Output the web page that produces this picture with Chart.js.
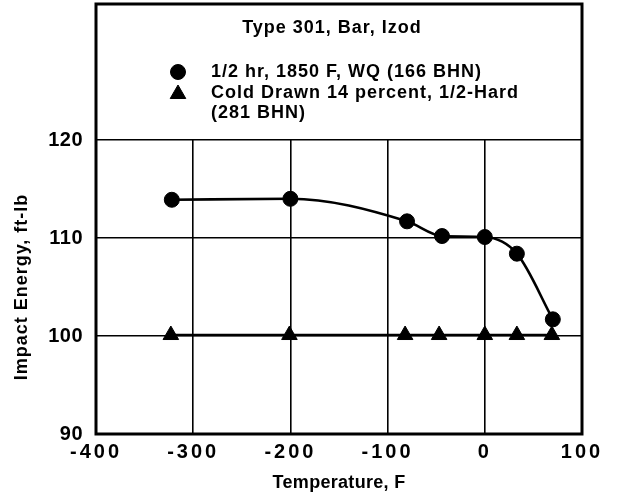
<!DOCTYPE html>
<html>
<head>
<meta charset="utf-8">
<script src="https://cdn.jsdelivr.net/npm/chart.js@4"></script>
<style>
html,body{margin:0;padding:0;background:#fff;}
#wrap{width:619px;height:498px;position:relative;}
</style>
</head>
<body>
<div id="wrap"><canvas id="c" width="619" height="498"></canvas></div>
<script>
// ---- data ----
const chartTitle = 'Type 301, Bar, Izod';
const legendLinesAnnealed = ['1/2 hr, 1850 F, WQ (166 BHN)'];
const legendLinesColdDrawn = ['Cold Drawn 14 percent, 1/2-Hard', '(281 BHN)'];
const annealedTemps  = [-322, -200, -80, -44, 0, 33, 70];
const annealedEnergy = [113.9, 114.0, 111.7, 110.2, 110.1, 108.4, 101.7];
const coldDrawnTemps  = [-323, -201, -82, -47, 0, 33, 69];
const coldDrawnEnergy = [100.1, 100.1, 100.1, 100.1, 100.1, 100.1, 100.1];
const xTicks = [-400, -300, -200, -100, 0, 100];
const yTicks = [90, 100, 110, 120];
const xAxisTitle = 'Temperature, F';
const yAxisTitle = 'Impact Energy, ft-lb';

const FONT = "'Liberation Sans', Arial, Helvetica, sans-serif";
const INK = '#000';

function pts(xs, ys) { return xs.map((x, i) => ({ x: x, y: ys[i] })); }

// letter spacing for scale labels/titles (reference typeface is wider)
const spacingPlugin = {
  id: 'spacing',
  beforeDraw(chart) {
    Object.keys(chart.scales).forEach(id => {
      const sc = chart.scales[id];
      if (sc._lsPatched) return;
      sc._lsPatched = true;
      const labelLS = id === 'x' ? '3px' : '0.5px';
      const titleLS = id === 'x' ? '0.3px' : '1px';
      const dl = sc.drawLabels, dt = sc.drawTitle;
      sc.drawLabels = function (a) { const c = this.ctx; c.save(); c.letterSpacing = labelLS; dl.call(this, a); c.restore(); };
      sc.drawTitle = function (a) { const c = this.ctx; c.save(); c.letterSpacing = titleLS; dt.call(this, a); c.restore(); };
    });
  }
};

// frame around plot + header box
const framePlugin = {
  id: 'frame',
  beforeDatasetsDraw(chart) {
    const { ctx, chartArea: a } = chart;
    ctx.save();
    ctx.strokeStyle = INK;
    ctx.lineWidth = 3;
    ctx.strokeRect(a.left, a.top - 136, a.right - a.left, a.bottom - a.top + 136);
    ctx.restore();
  }
};

// header text: title + key
const headerPlugin = {
  id: 'header',
  afterDraw(chart) {
    const { ctx, chartArea: a } = chart;
    const H = Chart.helpers;
    ctx.save();
    ctx.fillStyle = INK;
    ctx.textBaseline = 'middle';
    ctx.letterSpacing = '1px';
    ctx.font = 'bold 18px ' + FONT;
    ctx.textAlign = 'center';
    ctx.fillText(chartTitle, a.left + 236, a.top - 112);
    ctx.textAlign = 'left';
    const tx = a.left + 115, mx = a.left + 82;
    legendLinesAnnealed.forEach((t, i) => ctx.fillText(t, tx, a.top - 68 + i * 20.5));
    legendLinesColdDrawn.forEach((t, i) => ctx.fillText(t, tx, a.top - 47 + i * 20.5));
    ctx.fillStyle = INK; ctx.strokeStyle = INK; ctx.lineWidth = 1;
    H.drawPoint(ctx, { pointStyle: 'circle', radius: 7.5, borderWidth: 1 }, mx, a.top - 68);
    H.drawPoint(ctx, { pointStyle: 'triangle', radius: 9, borderWidth: 1 }, mx, a.top - 46);
    ctx.restore();
  }
};

const tickFont = { family: FONT, size: 20, weight: 'bold' };
const titleFont = { family: FONT, size: 18, weight: 'bold' };

new Chart(document.getElementById('c'), {
  type: 'scatter',
  data: {
    datasets: [
      {
        label: legendLinesAnnealed.join(' '),
        data: pts(annealedTemps, annealedEnergy),
        showLine: true,
        cubicInterpolationMode: 'monotone',
        borderColor: INK,
        backgroundColor: INK,
        borderWidth: 2.6,
        pointStyle: 'circle',
        pointRadius: 7.5,
        pointBorderWidth: 1,
        pointBackgroundColor: INK,
        pointBorderColor: INK
      },
      {
        label: legendLinesColdDrawn.join(' '),
        data: pts(coldDrawnTemps, coldDrawnEnergy),
        showLine: true,
        tension: 0,
        borderColor: INK,
        backgroundColor: INK,
        borderWidth: 2.6,
        pointStyle: 'triangle',
        pointRadius: 9,
        pointBorderWidth: 1,
        pointBackgroundColor: INK,
        pointBorderColor: INK
      }
    ]
  },
  options: {
    responsive: false,
    animation: false,
    events: [],
    layout: { padding: { top: 140, right: 37, left: 0, bottom: 0 } },
    plugins: { legend: { display: false }, title: { display: false }, tooltip: { enabled: false } },
    scales: {
      x: {
        type: 'linear', min: -400, max: 100,
        afterBuildTicks: s => { s.ticks = xTicks.map(v => ({ value: v })); },
        afterFit: s => { s.height = 64; },
        grid: { color: INK, lineWidth: 1.6, drawTicks: false },
        border: { display: false },
        ticks: { font: tickFont, color: INK, padding: 6, maxRotation: 0, autoSkip: false },
        title: { display: true, text: xAxisTitle, font: titleFont, color: INK, padding: { top: 0, bottom: 4 } }
      },
      y: {
        type: 'linear', min: 90, max: 120,
        afterBuildTicks: s => { s.ticks = yTicks.map(v => ({ value: v })); },
        afterFit: s => { s.width = 96; },
        grid: { color: INK, lineWidth: 1.6, drawTicks: false },
        border: { display: false },
        ticks: { font: tickFont, color: INK, padding: 13, autoSkip: false },
        title: { display: true, text: yAxisTitle, font: titleFont, color: INK, padding: { top: 11, bottom: 0 } }
      }
    }
  },
  plugins: [spacingPlugin, framePlugin, headerPlugin]
});
</script>
</body>
</html>
